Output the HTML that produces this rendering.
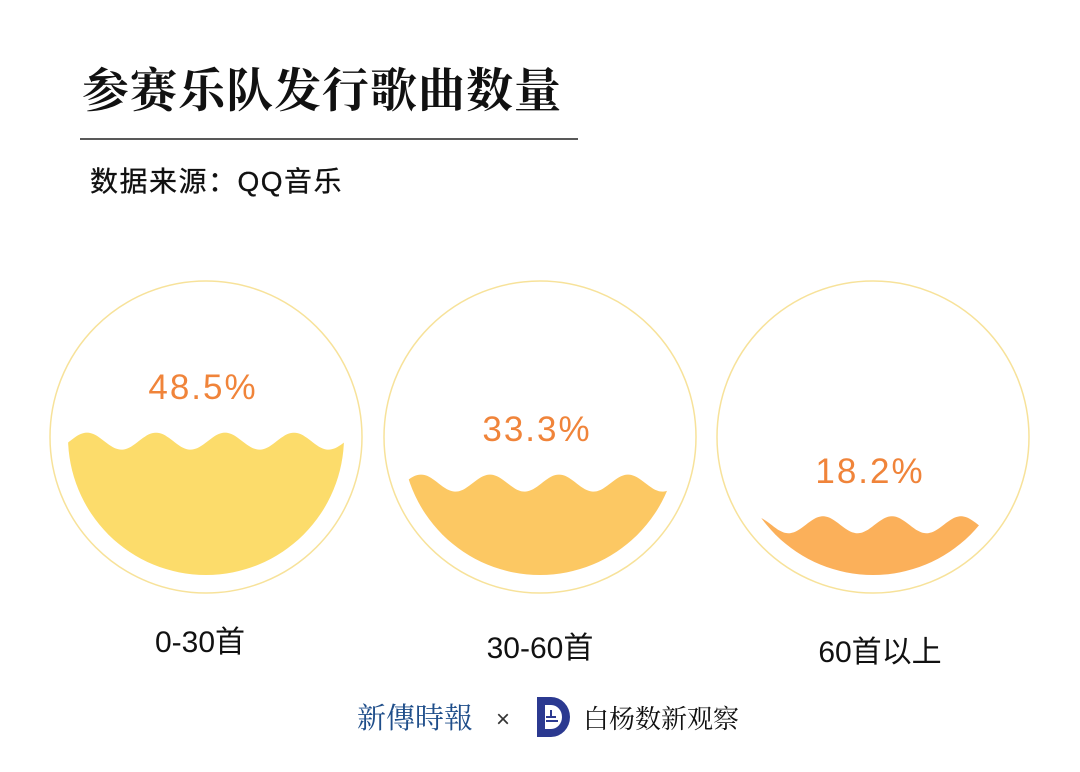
<!DOCTYPE html>
<html><head><meta charset="utf-8"><style>
html,body{margin:0;padding:0;background:#fff;width:1080px;height:772px;overflow:hidden}
svg{display:block}
</style></head><body>
<svg id="chart" width="1080" height="772" viewBox="0 0 1080 772">
<text x="82" y="107" font-family="'Noto Serif CJK SC',serif" font-size="47" font-weight="bold" fill="#111" letter-spacing="1">参赛乐队发行歌曲数量</text>
<line x1="80" y1="139" x2="578" y2="139" stroke="#222" stroke-width="1.5"/>
<text x="90" y="191" font-family="'Liberation Sans','Noto Sans CJK SC',sans-serif" font-size="28" fill="#111" stroke="#111" stroke-width="0.3" letter-spacing="1.5">数据来源：QQ音乐</text>
<g id="gauges"></g>
<g>
<text x="357" y="728" font-family="'Noto Serif CJK SC',serif" font-size="29" fill="#1f4e8a">新傳時報</text>
<text x="496" y="727" font-family="'Liberation Sans',sans-serif" font-size="24" fill="#333">×</text>
<g>
<path d="M537 697 h14 a19 20 0 0 1 0 40 h-14 z" fill="#2b3990"/>
<path d="M545 705 h6 a11 12 0 0 1 0 24 h-6 z" fill="#fff"/>
<rect x="546" y="716" width="10" height="2" fill="#2b3990"/><rect x="546" y="720" width="12" height="2" fill="#2b3990"/><rect x="550" y="710" width="2" height="6" fill="#2b3990"/>
</g>
<text x="583" y="728" font-family="'Noto Serif CJK SC',serif" font-size="26" fill="#111">白杨数新观察</text>
</g>
</svg>
<script>
const categories=["0-30首","30-60首","60首以上"];
const values=[48.5,33.3,18.2];
const valueLabels=["48.5%","33.3%","18.2%"];
const NS="http://www.w3.org/2000/svg";
const g=document.getElementById("gauges");
const centersX=[206,540,873], cy=437, R=156, r=138;
const fills=["#fcdc6b","#fcc863","#fbb05a"];
const catY=[652,658,662];
function levelY(v){return (cy+r)-v/100*(2*r);}
function mk(t,a){const e=document.createElementNS(NS,t);for(const k in a)e.setAttribute(k,a[k]);return e;}
categories.forEach((c,i)=>{
  const cx=centersX[i];
  const grp=mk("g",{});
  
  
  const outer=mk("circle",{cx:cx,cy:cy,r:R,fill:"none",stroke:"#f7e29a","stroke-width":1.5});
  
  
  grp.appendChild(outer);
  const cp=mk("clipPath",{id:"cp"+i});
  cp.appendChild(mk("circle",{cx:cx,cy:cy,r:r}));
  grp.appendChild(cp);
  const L=levelY(values[i]), A=8.5, P=69;
  let d="M"+(cx-r-5)+" "+(cy+r+5);
  for(let x=cx-r-5;x<=cx+r+5;x+=2){
    const y=L-A*Math.cos(2*Math.PI*(x-(cx-119))/P);
    d+=" L"+x+" "+y.toFixed(1);
  }
  d+=" L"+(cx+r+5)+" "+(cy+r+5)+" Z";
  const wave=mk("path",{d:d,fill:fills[i],"clip-path":"url(#cp"+i+")"});
  
  
  grp.appendChild(wave);
  const vt=mk("text",{x:cx-3,y:L-42,"text-anchor":"middle","font-family":"'Liberation Sans',sans-serif","font-size":35,"letter-spacing":2,fill:"#f0843a"});
  vt.textContent=valueLabels[i];
  
  
  grp.appendChild(vt);
  const ct=mk("text",{x:[200,540,880][i],y:catY[i],"text-anchor":"middle","font-family":"'Liberation Sans','Noto Sans CJK SC',sans-serif","font-size":30,fill:"#111"});
  ct.textContent=c;
  
  
  grp.appendChild(ct);
  g.appendChild(grp);
});
</script>
</body></html>
